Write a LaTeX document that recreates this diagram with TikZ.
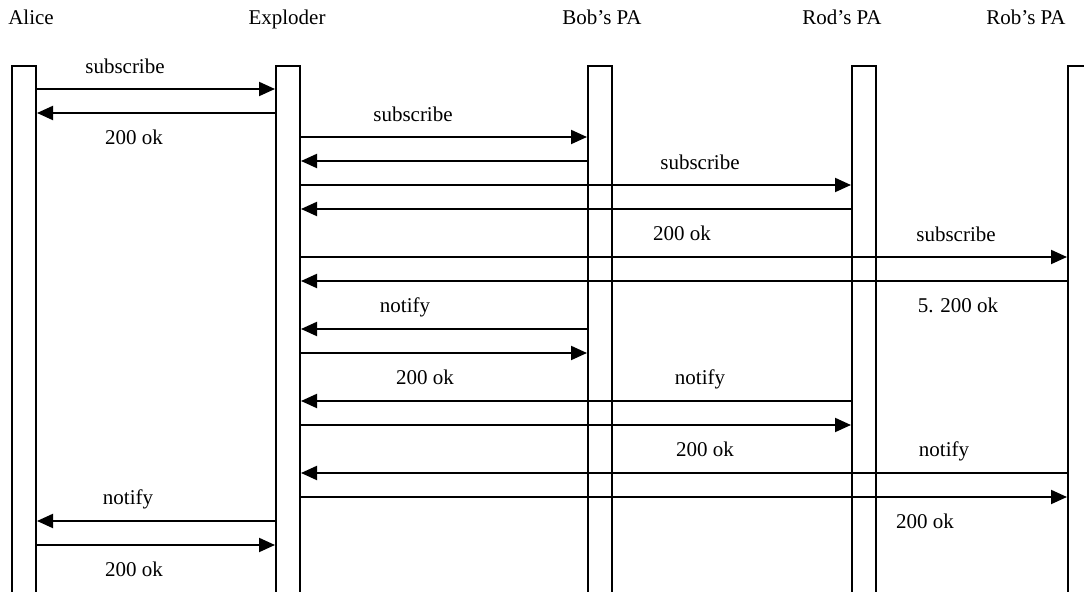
\documentclass[tikz,border=0pt]{standalone}
\usepackage{fontspec}
\setmainfont{Liberation Serif}
\usetikzlibrary{arrows.meta}

\begin{document}
\begin{tikzpicture}[x=0.5pt,y=-0.5pt,font=\fontsize{10.5}{12}\selectfont,
    every node/.append style={text height=7.5pt,text depth=2.3pt},
    lifeline/.style={draw,line width=1pt,minimum width=12pt,minimum height=270pt,
      inner sep=0pt,anchor=north},
    msg/.style={line width=1pt,-{Triangle[length=8pt,width=7pt]}}]
  \useasboundingbox (0,0) rectangle (1084,592);
  \clip (0,0) rectangle (1084,592);
  % participants
  \node (alicename) at (31,19) {Alice};
  \node (explname) at (287,19) {Exploder};
  \node (bobname) at (602,19) {Bob's PA};
  \node (rodname) at (842,19) {Rod's PA};
  \node (robname) at (1026,19) {Rob's PA};
  % lifelines
  \node[lifeline] (alice) at (24,65) {};
  \node[lifeline] (expl) at (288,65) {};
  \node[lifeline] (bob) at (600,65) {};
  \node[lifeline] (rod) at (864,65) {};
  \node[lifeline] (rob) at (1080,65) {};
  % messages
  \foreach \y/\from/\to in {89/alice.east/expl.west, 113/expl.west/alice.east,
      137/expl.east/bob.west, 161/bob.west/expl.east,
      185/expl.east/rod.west, 209/rod.west/expl.east,
      257/expl.east/rob.west, 281/rob.west/expl.east,
      329/bob.west/expl.east, 353/expl.east/bob.west,
      401/rod.west/expl.east, 425/expl.east/rod.west,
      473/rob.west/expl.east, 497/expl.east/rob.west,
      521/expl.west/alice.east, 545/alice.east/expl.west}
    \draw[msg] (\from |- 0,\y) -- (\to |- 0,\y);
  % message labels
  \node (sub1) at (125,68) {subscribe};
  \node (ok1) at (134,139) {200 ok};
  \node (sub2) at (413,116) {subscribe};
  \node (sub3) at (700,164) {subscribe};
  \node (ok3) at (682,235) {200 ok};
  \node (sub4) at (956,236) {subscribe};
  \node (ok4) at (958,307) {5. 200 ok};
  \node (not2) at (405,307) {notify};
  \node (ok5) at (425,379) {200 ok};
  \node (not3) at (700,379) {notify};
  \node (ok6) at (705,451) {200 ok};
  \node (not4) at (944,451) {notify};
  \node (ok7) at (925,523) {200 ok};
  \node (not1) at (128,499) {notify};
  \node (ok8) at (134,571) {200 ok};
\end{tikzpicture}
\end{document}
